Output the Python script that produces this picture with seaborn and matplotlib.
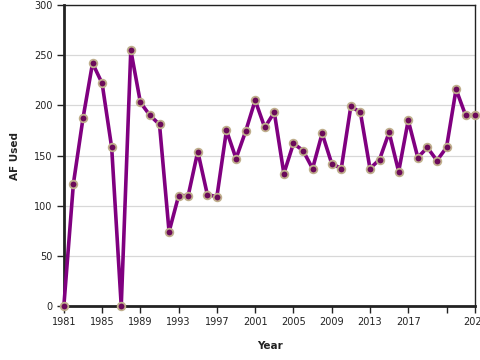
import matplotlib
matplotlib.use("Agg")
import matplotlib.pyplot as plt
import seaborn as sns
import pandas as pd

years = list(range(1981, 2025))
af_used = [0, 122, 187, 242, 222, 158, 0, 255, 203, 190, 181, 74, 110, 110, 154,
           111, 109, 175, 147, 174, 205, 178, 193, 132, 162, 155, 137, 172, 142,
           137, 199, 193, 137, 146, 173, 134, 185, 148, 158, 145, 158, 216, 190, 190]
tick_years = [1981, 1985, 1989, 1993, 1997, 2001, 2005, 2009, 2013, 2017, 2021, 2024]
tick_labels = ["1981", "1985", "1989", "1993", "1997", "2001", "2005", "2009",
               "2013", "2017", "", "2024"]

df = pd.DataFrame({"Year": years, "AF Used": af_used})

sns.set_theme(style="white")
plt.rcParams['font.family'] = ['DejaVu Sans']

fig = plt.figure(figsize=(4.8, 3.6), dpi=100)
ax = fig.add_axes([0.133, 0.15, 0.857, 0.836])

ax.yaxis.grid(True, color="#d8d8d8", linewidth=0.9)
ax.set_axisbelow(True)

sns.lineplot(data=df, x="Year", y="AF Used", ax=ax, color="#800080", linewidth=2.6,
             marker="o", markersize=5.5, markerfacecolor="#6b0a5a",
             markeredgecolor="#bfae8c", markeredgewidth=1.3, zorder=3, clip_on=False)

ax.set_xlim(1981, 2024)
ax.set_ylim(0, 300)
ax.set_yticks([0, 50, 100, 150, 200, 250, 300])
ax.set_xticks(tick_years)
ax.set_xticklabels(tick_labels)

for side in ["left", "bottom"]:
    ax.spines[side].set_color("#222222")
    ax.spines[side].set_linewidth(2.0)
for side in ["top", "right"]:
    ax.spines[side].set_color("#222222")
    ax.spines[side].set_linewidth(1.0)

ax.tick_params(axis="both", direction="out", length=5, width=1, color="#222222",
               labelsize=7, labelcolor="#222222", pad=3, bottom=True, left=True)

ax.set_xlabel("Year", fontsize=7.5, fontweight="bold", color="#222222", labelpad=10)
ax.set_ylabel("AF Used", fontsize=7.5, fontweight="bold", color="#222222", labelpad=10)

fig.savefig("out.png", dpi=100)
